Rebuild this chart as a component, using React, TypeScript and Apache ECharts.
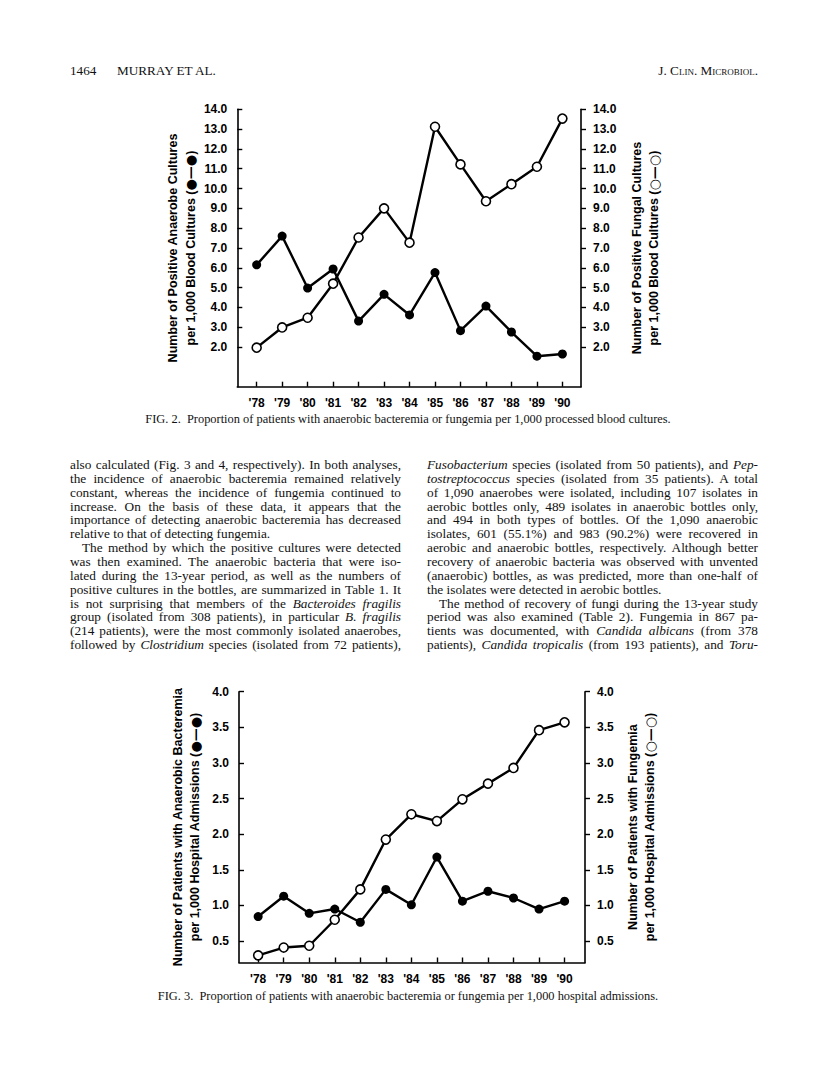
import React, { useEffect, useRef } from "react";
import * as echarts from "echarts";

// ---------- DATA ----------
const years = [1978, 1979, 1980, 1981, 1982, 1983, 1984, 1985, 1986, 1987, 1988, 1989, 1990];

// Fig. 2: per 1,000 blood cultures
const fig2Anaerobe = [6.15, 7.6, 4.98, 5.94, 3.31, 4.66, 3.62, 5.76, 2.83, 4.07, 2.76, 1.54, 1.65];
const fig2Fungal = [1.97, 2.99, 3.48, 5.2, 7.53, 9.0, 7.27, 13.12, 11.22, 9.36, 10.22, 11.1, 13.53];
const fig2Ticks = [2, 3, 4, 5, 6, 7, 8, 9, 10, 11, 12, 13, 14];

// Fig. 3: per 1,000 hospital admissions
const fig3Anaerobe = [0.845, 1.13, 0.89, 0.95, 0.765, 1.226, 1.01, 1.68, 1.06, 1.2, 1.105, 0.95, 1.06];
const fig3Fungal = [0.3, 0.41, 0.435, 0.8, 1.226, 1.925, 2.28, 2.185, 2.49, 2.71, 2.93, 3.46, 3.57];
const fig3Ticks = [0.5, 1.0, 1.5, 2.0, 2.5, 3.0, 3.5, 4.0];

const fig2LeftName = "Number of Positive Anaerobe Cultures\nper 1,000 Blood Cultures ({s|●—●})";
const fig2RightName = "Number of Positive Fungal Cultures\nper 1,000 Blood Cultures ({s|○—○})";
const fig3LeftName = "Number of Patients with Anaerobic Bacteremia\nper 1,000 Hospital Admissions ({s|●—●})";
const fig3RightName = "Number of Patients with Fungemia\nper 1,000 Hospital Admissions ({s|○—○})";

const fig2Caption =
  "FIG. 2.  Proportion of patients with anaerobic bacteremia or fungemia per 1,000 processed blood cultures.";
const fig3Caption =
  "FIG. 3.  Proportion of patients with anaerobic bacteremia or fungemia per 1,000 hospital admissions.";

// body text lines: [text, kind] kind: "j" justified, "l" last line of paragraph, "i" indented justified
const leftLines: [string, string][] = [
  ["also calculated (Fig. 3 and 4, respectively). In both analyses,", "j"],
  ["the incidence of anaerobic bacteremia remained relatively", "j"],
  ["constant, whereas the incidence of fungemia continued to", "j"],
  ["increase. On the basis of these data, it appears that the", "j"],
  ["importance of detecting anaerobic bacteremia has decreased", "j"],
  ["relative to that of detecting fungemia.", "l"],
  ["The method by which the positive cultures were detected", "i"],
  ["was then examined. The anaerobic bacteria that were iso-", "j"],
  ["lated during the 13-year period, as well as the numbers of", "j"],
  ["positive cultures in the bottles, are summarized in Table 1. It", "j"],
  ["is not surprising that members of the *Bacteroides fragilis*", "j"],
  ["group (isolated from 308 patients), in particular *B. fragilis*", "j"],
  ["(214 patients), were the most commonly isolated anaerobes,", "j"],
  ["followed by *Clostridium* species (isolated from 72 patients),", "j"],
];
const rightLines: [string, string][] = [
  ["*Fusobacterium* species (isolated from 50 patients), and *Pep-*", "j"],
  ["*tostreptococcus* species (isolated from 35 patients). A total", "j"],
  ["of 1,090 anaerobes were isolated, including 107 isolates in", "j"],
  ["aerobic bottles only, 489 isolates in anaerobic bottles only,", "j"],
  ["and 494 in both types of bottles. Of the 1,090 anaerobic", "j"],
  ["isolates, 601 (55.1%) and 983 (90.2%) were recovered in", "j"],
  ["aerobic and anaerobic bottles, respectively. Although better", "j"],
  ["recovery of anaerobic bacteria was observed with unvented", "j"],
  ["(anaerobic) bottles, as was predicted, more than one-half of", "j"],
  ["the isolates were detected in aerobic bottles.", "l"],
  ["The method of recovery of fungi during the 13-year study", "i"],
  ["period was also examined (Table 2). Fungemia in 867 pa-", "j"],
  ["tients was documented, with *Candida albicans* (from 378", "j"],
  ["patients), *Candida tropicalis* (from 193 patients), and *Toru-*", "j"],
];

// ---------- STYLE ----------
const SANS = "'Liberation Sans', Arial, Helvetica, sans-serif";
const SERIF = "'Liberation Serif', 'Times New Roman', serif";

function xAxisCfg(gridIndex: number, min: number, max: number) {
  return {
    gridIndex,
    type: "value",
    min,
    max,
    axisLine: { show: true, lineStyle: { color: "#000", width: 1.6 } },
    axisTick: { show: true, inside: true, length: 5, customValues: years, lineStyle: { color: "#000", width: 1.4 } },
    axisLabel: {
      show: true,
      customValues: years,
      formatter: (v: number) => "'" + String(Math.round(v)).slice(2),
      margin: 10,
      color: "#000",
      fontFamily: SANS,
      fontWeight: "bold",
      fontSize: 12,
    },
    splitLine: { show: false },
  };
}

function yAxisCfg(
  gridIndex: number,
  position: string,
  min: number,
  max: number,
  ticks: number[],
  name: string,
  nameGap: number
) {
  const right = position === "right";
  return {
    gridIndex,
    type: "value",
    position,
    min,
    max,
    name,
    nameLocation: "middle",
    nameGap,
    nameTextStyle: {
      color: "#000",
      fontFamily: SANS,
      fontWeight: "bold",
      fontSize: 12.5,
      lineHeight: 17.5,
      align: "center",
      rich: {
        s: {
          color: "#000",
          fontFamily: "'DejaVu Sans', sans-serif",
          fontWeight: "bold",
          fontSize: 13,
          lineHeight: 17.5,
        },
      },
    },
    axisLine: { show: true, onZero: false, lineStyle: { color: "#000", width: 1.6 } },
    axisTick: {
      show: true,
      inside: !right,
      length: 5,
      customValues: ticks,
      lineStyle: { color: "#000", width: 1.4 },
    },
    axisLabel: {
      show: true,
      customValues: ticks,
      formatter: (v: number) => v.toFixed(1),
      margin: right ? 12 : 10,
      color: "#000",
      fontFamily: SANS,
      fontWeight: "bold",
      fontSize: 12,
    },
    splitLine: { show: false },
  };
}

function lineSeries(name: string, xi: number, yi: number, values: number[], filled: boolean) {
  return {
    name,
    type: "line",
    xAxisIndex: xi,
    yAxisIndex: yi,
    data: years.map((y, i) => [y, values[i]]),
    symbol: "circle",
    symbolSize: 9,
    showSymbol: true,
    lineStyle: { color: "#000", width: 2.4 },
    itemStyle: filled
      ? { color: "#000", borderColor: "#000", borderWidth: 0 }
      : { color: "#fff", borderColor: "#000", borderWidth: 1.6 },
    z: filled ? 3 : 4,
  };
}

const option = {
  animation: false,
  backgroundColor: "transparent",
  grid: [
    { left: 237.3, right: 235, top: 109.3, bottom: 702.3, containLabel: false },
    { left: 239, right: 231, top: 691.7, bottom: 126.5, containLabel: false },
  ],
  xAxis: [xAxisCfg(0, 1977.24, 1990.73), xAxisCfg(1, 1977.25, 1990.8)],
  yAxis: [
    yAxisCfg(0, "left", 0, 14, fig2Ticks, fig2LeftName, 38),
    yAxisCfg(0, "right", 0, 14, fig2Ticks, fig2RightName, 47),
    yAxisCfg(1, "left", 0.2, 4.0, fig3Ticks, fig3LeftName, 35),
    yAxisCfg(1, "right", 0.2, 4.0, fig3Ticks, fig3RightName, 39),
  ],
  series: [
    lineSeries("Anaerobe cultures", 0, 0, fig2Anaerobe, true),
    lineSeries("Fungal cultures", 0, 1, fig2Fungal, false),
    lineSeries("Anaerobic bacteremia", 1, 2, fig3Anaerobe, true),
    lineSeries("Fungemia", 1, 3, fig3Fungal, false),
  ],
};

function renderRich(text: string) {
  const parts = text.split("*");
  return parts.map((p, i) =>
    i % 2 === 1 ? (
      <i key={i}>{p}</i>
    ) : (
      <span key={i}>{p}</span>
    )
  );
}

const COL_TOP = 465;
const LINE_H = 13.85;
const BODY_SIZE = 13.3;

function Column({ lines, left, width }: { lines: [string, string][]; left: number; width: number }) {
  return (
    <>
      {lines.map(([t, kind], i) => (
        <div
          key={i}
          style={{
            position: "absolute",
            left,
            top: COL_TOP + i * LINE_H - 9,
            width,
            height: 18,
            lineHeight: "18px",
            fontFamily: SERIF,
            fontSize: BODY_SIZE,
            color: "#111",
            whiteSpace: "nowrap",
            wordSpacing: kind === "l" ? 0 : -1.5,
            textAlign: kind === "l" ? "left" : "justify",
            textAlignLast: kind === "l" ? "left" : "justify",
            textIndent: kind === "i" ? 12 : 0,
          }}
        >
          {renderRich(t)}
        </div>
      ))}
    </>
  );
}

export default function App() {
  const ref = useRef<HTMLDivElement>(null);
  useEffect(() => {
    const chart = echarts.init(ref.current as HTMLDivElement, null, { renderer: "svg" });
    chart.setOption(option as any);
    return () => chart.dispose();
  }, []);

  const capStyle: React.CSSProperties = {
    position: "absolute",
    left: 0,
    width: 816,
    textAlign: "center",
    fontSize: 12.4,
    lineHeight: "16px",
    whiteSpace: "pre",
  };

  return (
    <div
      style={{
        position: "absolute",
        left: 0,
        top: 0,
        width: 816,
        height: 1089,
        background: "#fff",
        overflow: "hidden",
        fontFamily: SERIF,
        color: "#111",
      }}
    >
      <div ref={ref} style={{ position: "absolute", left: 0, top: 0, width: 816, height: 1089 }} />

      {/* running header */}
      <div style={{ position: "absolute", left: 70, top: 62, fontSize: 13.2, lineHeight: "18px" }}>1464</div>
      <div style={{ position: "absolute", left: 117, top: 62, fontSize: 13.2, lineHeight: "18px" }}>MURRAY ET AL.</div>
      <div
        style={{
          position: "absolute",
          right: 58,
          top: 62,
          fontSize: 13.2,
          lineHeight: "18px",
          fontVariant: "small-caps",
        }}
      >
        J. Clin. Microbiol.
      </div>

      {/* captions */}
      <div style={{ ...capStyle, top: 411 }}>{fig2Caption}</div>
      <div style={{ ...capStyle, top: 988 }}>{fig3Caption}</div>

      <Column lines={leftLines} left={70} width={331} />
      <Column lines={rightLines} left={427} width={331} />
    </div>
  );
}
